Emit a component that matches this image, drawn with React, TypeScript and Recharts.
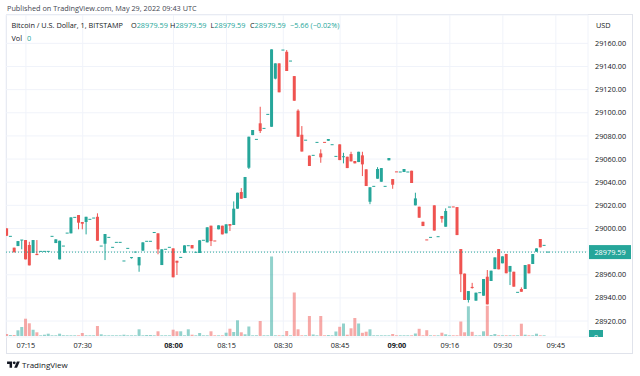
import { ComposedChart, Bar, XAxis, YAxis, CartesianGrid, ReferenceLine, Cell } from 'recharts'

const UP = '#26a69a'
const DOWN = '#ef5350'
const TEXT = '#131722'
const GRID = '#f0f3fa'
const FONT = '"Open Sans", "Noto Sans", sans-serif'

// BTC/USD 1-minute bars, BITSTAMP, 29 May 2022 (bar index, minutes without trades are skipped)
const OPEN = [
  29000.1, 28993.2, 28983.4, 28984.8, 28989.6, 28990.0, 28985.7, 28978.8, 28978.0, 28980.2,
  28980.2, 28980.2, 28993.2, 28987.4, 28973.3, 28984.8, 28996.0, 28995.8, 29009.6, 29011.6,
  29005.6, 29005.6, 29007.9, 29009.0, 29010.1, 28984.8, 28986.8, 28992.3, 28983.7, 28988.0,
  28988.0, 28971.9, 28982.8, 28974.0, 28979.6, 28968.1, 28980.8, 28988.9, 28988.9, 28996.5,
  28995.8, 28968.4, 28982.0, 28983.7, 28982.8, 28972.1, 28975.0, 28979.0, 28985.1, 28985.7,
  28979.4, 28978.8, 28989.8, 28988.0, 29002.4, 28989.2, 28999.3, 29002.4, 28995.8, 29003.8,
  29003.0, 29017.1, 29031.5, 29026.3, 29052.5, 29080.7, 29077.0, 29090.9, 29086.5, 29098.6,
  29087.9, 29129.5, 29142.7, 29154.2, 29152.7, 29144.7, 29131.7, 29101.8, 29081.0, 29076.3,
  29063.0, 29063.2, 29074.4, 29064.9, 29074.4, 29075.8, 29072.4, 29062.3, 29072.7, 29061.8,
  29062.0, 29064.3, 29058.3, 29057.4, 29063.2, 29051.1, 29023.1, 29036.4, 29043.0, 29040.4,
  29036.4, 29058.9, 29042.7, 29048.9, 29048.8, 29048.8, 29048.8, 29049.9, 29020.0, 29018.8,
  29005.8, 28990.1, 28992.3, 29020.0, 28992.9, 29010.8, 29001.5, 29018.5, 29018.6, 29018.5,
  28982.2, 28961.0, 28938.2, 28949.5, 28937.6, 28944.5, 28941.9, 28958.3, 28954.6, 28964.9,
  28982.2, 28969.9, 28978.0, 28962.6, 28962.6, 28944.8, 28947.7, 28947.7, 28969.0, 28969.3,
  28979.9, 28990.9, 28985.4, 28979.59,
]

const HIGH = [
  29000.1, 28993.2, 28983.4, 28989.1, 28990.0, 28990.0, 28988.5, 28990.0, 28990.0, 28980.2,
  28980.2, 28980.2, 28993.2, 28990.6, 28989.4, 28984.8, 28996.0, 29009.6, 29009.6, 29011.6,
  29005.6, 29010.1, 29007.9, 29009.0, 29013.1, 28984.8, 28995.2, 28992.3, 28983.7, 28988.0,
  28988.0, 28971.9, 28982.8, 28975.0, 28979.6, 28975.3, 28988.0, 28988.9, 28988.9, 28996.5,
  28995.8, 28982.0, 28982.0, 28983.7, 28982.8, 28972.1, 28975.0, 28985.4, 28985.1, 28985.7,
  28979.4, 28989.8, 28989.8, 29001.0, 29002.4, 28989.2, 29002.7, 29002.4, 29003.6, 29003.8,
  29023.4, 29030.9, 29034.9, 29044.5, 29079.3, 29085.1, 29077.0, 29105.2, 29086.5, 29098.6,
  29154.8, 29142.7, 29142.7, 29154.2, 29154.2, 29144.7, 29131.7, 29103.0, 29088.5, 29076.3,
  29063.0, 29063.2, 29074.4, 29068.4, 29074.4, 29077.3, 29072.4, 29062.3, 29072.7, 29065.4,
  29062.0, 29066.3, 29058.3, 29066.3, 29066.3, 29051.1, 29035.6, 29036.4, 29053.0, 29052.2,
  29036.4, 29060.9, 29042.7, 29048.9, 29048.8, 29051.4, 29048.8, 29049.9, 29030.9, 29018.8,
  29005.8, 28990.1, 28992.3, 29020.0, 28992.9, 29010.8, 29017.4, 29018.5, 29018.6, 29018.5,
  28982.2, 28961.0, 28945.9, 28953.0, 28944.5, 28944.5, 28956.3, 28964.1, 28963.5, 28975.0,
  28982.2, 28975.9, 28978.0, 28967.6, 28962.6, 28944.8, 28949.1, 28968.4, 28969.0, 28977.9,
  28982.8, 28990.9, 28985.4, 28979.59,
]

const LOW = [
  28993.7, 28993.2, 28979.4, 28984.8, 28982.0, 28973.3, 28968.1, 28978.8, 28977.0, 28980.2,
  28980.2, 28980.2, 28993.2, 28987.4, 28973.3, 28984.8, 28996.0, 28995.8, 29009.6, 28999.3,
  28999.3, 28994.9, 29007.9, 29009.0, 28989.4, 28984.8, 28972.7, 28992.3, 28983.7, 28988.0,
  28988.0, 28971.9, 28982.8, 28974.0, 28979.6, 28962.6, 28980.8, 28988.9, 28988.9, 28996.5,
  28977.7, 28968.4, 28982.0, 28983.7, 28957.8, 28959.8, 28975.0, 28979.0, 28985.1, 28982.8,
  28979.4, 28978.8, 28989.8, 28988.0, 28984.8, 28989.1, 28999.3, 28994.9, 28995.8, 28997.8,
  29003.0, 29017.1, 29025.7, 29026.3, 29051.4, 29080.7, 29077.0, 29082.5, 29086.5, 29098.6,
  29087.9, 29128.9, 29117.7, 29154.2, 29136.1, 29144.7, 29110.4, 29079.3, 29066.5, 29076.3,
  29054.0, 29063.2, 29074.4, 29056.8, 29074.2, 29075.8, 29072.4, 29062.3, 29059.1, 29056.3,
  29052.2, 29058.0, 29056.3, 29057.4, 29045.3, 29036.7, 29021.0, 29036.4, 29043.0, 29040.4,
  29036.4, 29058.9, 29034.3, 29048.8, 29048.8, 29048.8, 29048.8, 29039.3, 29020.0, 29009.3,
  29002.1, 28990.0, 28992.3, 28998.2, 28992.9, 29005.0, 29001.5, 29018.5, 29018.5, 28994.3,
  28945.0, 28938.2, 28936.0, 28948.0, 28937.6, 28944.5, 28941.9, 28934.4, 28954.6, 28964.9,
  28964.7, 28969.9, 28961.3, 28951.1, 28949.7, 28944.8, 28945.3, 28947.7, 28961.2, 28969.3,
  28979.9, 28983.7, 28985.4, 28979.59,
]

const CLOSE = [
  28993.7, 28993.2, 28979.4, 28989.1, 28990.0, 28973.3, 28968.1, 28990.0, 28977.0, 28980.2,
  28980.2, 28980.2, 28993.2, 28990.6, 28989.4, 28984.8, 28996.0, 29009.6, 29009.6, 29005.0,
  29004.1, 29010.1, 29007.9, 29009.0, 28989.4, 28984.8, 28995.2, 28992.3, 28983.7, 28988.0,
  28988.0, 28971.9, 28982.8, 28974.8, 28979.6, 28975.3, 28988.0, 28988.9, 28988.9, 28996.5,
  28982.0, 28982.0, 28982.0, 28983.7, 28957.8, 28970.4, 28975.0, 28985.4, 28985.1, 28982.8,
  28979.4, 28989.8, 28989.8, 29001.0, 28989.1, 28989.1, 29002.7, 28994.9, 29003.6, 29002.4,
  29017.1, 29030.9, 29025.7, 29044.5, 29079.3, 29085.1, 29077.0, 29084.2, 29086.5, 29098.6,
  29154.8, 29142.7, 29117.7, 29154.2, 29136.1, 29144.7, 29110.4, 29079.3, 29066.5, 29076.3,
  29054.0, 29063.2, 29074.4, 29061.5, 29074.2, 29077.3, 29072.4, 29062.3, 29059.1, 29062.0,
  29052.2, 29058.0, 29056.3, 29066.3, 29055.4, 29036.7, 29035.6, 29036.4, 29051.4, 29052.2,
  29036.4, 29060.9, 29037.8, 29048.8, 29048.8, 29051.4, 29048.8, 29039.3, 29026.0, 29009.3,
  29002.1, 28990.0, 28992.3, 28998.2, 28992.9, 29008.4, 29015.1, 29018.5, 29018.5, 28994.3,
  28960.5, 28938.2, 28945.9, 28948.5, 28944.5, 28944.5, 28956.3, 28934.4, 28963.5, 28975.0,
  28964.7, 28975.9, 28961.3, 28967.6, 28949.7, 28944.8, 28945.3, 28968.4, 28961.2, 28977.9,
  28982.8, 28983.7, 28985.4, 28979.59,
]

const VOLUME = [
  0.2, 0.1, 0.1, 0.57, 0.9, 1.73, 1.27, 0.63, 0.37, 0.07,
  0.13, 0.23, 0.07, 0.07, 0.23, 0.07, 0.07, 0.07, 0.07, 0.07,
  0.3, 0.07, 0.07, 0.07, 1.0, 0.17, 0.07, 0.07, 0.07, 0.07,
  0.07, 0.13, 0.07, 0.07, 0.07, 0.67, 0.07, 0.1, 0.1, 0.07,
  0.47, 0.07, 0.07, 0.07, 0.63, 0.47, 0.47, 0.07, 0.67, 0.13,
  0.07, 0.3, 0.07, 0.07, 0.47, 0.07, 0.07, 0.07, 0.33, 0.73,
  0.4, 1.57, 0.37, 0.17, 0.95, 0.07, 0.07, 1.5, 0.07, 0.07,
  7.95, 0.07, 0.07, 0.07, 0.5, 0.07, 4.35, 0.67, 0.07, 0.07,
  2.0, 0.15, 0.07, 2.0, 0.07, 0.1, 0.07, 0.45, 0.92, 1.25,
  0.13, 0.77, 1.8, 1.25, 0.32, 0.43, 0.67, 0.07, 0.07, 0.07,
  0.07, 0.07, 0.2, 0.07, 0.07, 0.07, 0.07, 0.07, 0.25, 0.72,
  0.07, 0.58, 0.07, 0.07, 0.07, 0.33, 0.17, 0.07, 0.07, 0.07,
  1.45, 0.37, 2.97, 0.42, 0.07, 0.07, 0.47, 3.03, 0.1, 0.2,
  0.07, 0.07, 0.07, 0.07, 0.07, 0.07, 1.23, 0.13, 0.07, 0.07,
  0.23, 0.07, 0.07, 0,
]

const TICK_INDEX = [5, 20, 44, 58, 73, 88, 103, 117, 131, 145]
const TICK_LABELS = ['07:15', '07:30', '08:00', '08:15', '08:30', '08:45', '09:00', '09:16', '09:30', '09:45']
const PRICE_TICKS = [28920, 28940, 28960, 28980, 29000, 29020, 29040, 29060, 29080, 29100, 29120, 29140, 29160]
const LAST_PRICE = 28979.59

const PRICE_DOMAIN = [28906.2, 29184.5]
const VOL_DOMAIN = [-0.1, 32.1]
const X_DOMAIN = [-0.264, 153.5]

const W = 640
const H = 376

const data = OPEN.map((o, i) => ({ i, o, h: HIGH[i], l: LOW[i], c: CLOSE[i], v: VOLUME[i] }))

function Candle(props: any) {
  const { x, y, width, height, payload } = props
  if (!payload || x == null || y == null) return null
  const { o, h, l, c } = payload
  const color = c >= o ? UP : DOWN
  const span = h - l
  const k = span > 0 ? height / span : 0
  const top = y + (h - Math.max(o, c)) * k
  const bh = Math.abs(c - o) * k
  const cx = x + width / 2
  return (
    <g>
      {span > 0 && <rect x={cx - 0.5} y={y} width={1} height={height} fill={color} />}
      {bh >= 1 ? (
        <rect x={x} y={top} width={width} height={bh} fill={color} />
      ) : (
        <rect x={x} y={top - 0.5} width={width} height={1} fill={color} />
      )}
    </g>
  )
}

function TimeTick({ x, y, payload }: any) {
  const label = TICK_LABELS[TICK_INDEX.indexOf(payload.value)]
  return (
    <text x={x} y={y + 11} textAnchor="middle" fontSize={7.3} fill={TEXT}
      fontWeight={label.endsWith(':00') ? 700 : 400}>
      {label}
    </text>
  )
}

function PriceTag({ viewBox }: any) {
  if (!viewBox) return null
  const x = viewBox.x + viewBox.width + 1
  return (
    <g>
      <rect x={x} y={viewBox.y - 7} width={42} height={14} fill={UP} />
      <text x={x + 21} y={viewBox.y + 2.6} textAnchor="middle" fontSize={7.3} fill="#fff">
        {LAST_PRICE.toFixed(2)}
      </text>
    </g>
  )
}

function VolTag({ viewBox }: any) {
  if (!viewBox) return null
  const x = viewBox.x + viewBox.width + 1
  return (
    <g>
      <clipPath id="volclip">
        <rect x={x} y={viewBox.y - 6} width={14} height={7} />
      </clipPath>
      <g clipPath="url(#volclip)">
        <rect x={x} y={viewBox.y - 6} width={14} height={7} fill={UP} />
        <text x={x + 7} y={viewBox.y + 3.5} textAnchor="middle" fontSize={7.3} fill="#fff">0</text>
      </g>
    </g>
  )
}

const abs = (left: number, top: number): React.CSSProperties => ({ position: 'absolute', left, top, whiteSpace: 'nowrap', lineHeight: '10px' })

export default function App() {
  return (
    <div style={{ position: 'absolute', left: 0, top: 0, width: W, height: H, background: '#fff', overflow: 'hidden', fontFamily: FONT, fontSize: 7.3, color: TEXT }}>
      <div style={{ ...abs(7, 3), color: '#434651' }}>Published on TradingView.com, May 29, 2022 09:43 UTC</div>
      <div style={{ position: 'absolute', left: 6, top: 14, width: 627, height: 340, border: '1px solid #e0e3eb', boxSizing: 'border-box' }} />

      <div style={{ position: 'absolute', left: 0, top: 0 }}>
        <ComposedChart width={W} height={H} data={data} margin={{ top: 15, right: 8, bottom: 23, left: 6 }}>
          <CartesianGrid stroke={GRID} yAxisId="price" />
          <XAxis dataKey="i" type="number" domain={X_DOMAIN} allowDataOverflow ticks={TICK_INDEX} interval={0}
            height={16} axisLine={false} tickLine={false} tickSize={0} tickMargin={0} tick={<TimeTick />} />
          <YAxis yAxisId="price" orientation="right" width={44} domain={PRICE_DOMAIN} allowDataOverflow
            ticks={PRICE_TICKS} interval={0} axisLine={false} tickLine={false} tickSize={0} tickMargin={7}
            tick={{ fill: TEXT, fontSize: 7.3 }} tickFormatter={(v: number) => v.toFixed(2)} />
          <YAxis yAxisId="vol" hide domain={VOL_DOMAIN} allowDataOverflow />
          <Bar yAxisId="vol" dataKey="v" barSize={3} isAnimationActive={false}>
            {data.map((d) => (
              <Cell key={d.i} fill={d.c >= d.o ? UP : DOWN} fillOpacity={0.5} />
            ))}
          </Bar>
          <ReferenceLine yAxisId="vol" y={0} stroke="none" label={<VolTag />} />
        </ComposedChart>
      </div>

      <div style={{ position: 'absolute', left: 0, top: 0 }}>
        <ComposedChart width={W} height={H} data={data} margin={{ top: 15, right: 52, bottom: 39, left: 6 }}>
          <XAxis dataKey="i" type="number" domain={X_DOMAIN} allowDataOverflow hide />
          <YAxis domain={PRICE_DOMAIN} allowDataOverflow hide />
          <ReferenceLine y={LAST_PRICE} stroke={UP} strokeDasharray="1 2" label={<PriceTag />} />
          <Bar dataKey={(d: any) => [d.l, d.h]} barSize={3} shape={<Candle />} isAnimationActive={false} />
        </ComposedChart>
      </div>

      <div style={abs(11.5, 20)}>Bitcoin / U.S. Dollar, 1, BITSTAMP</div>
      <div style={abs(131, 20)}>O<span style={{ color: UP }}>28979.59</span></div>
      <div style={abs(170, 20)}>H<span style={{ color: UP }}>28979.59</span></div>
      <div style={abs(210.5, 20)}>L<span style={{ color: UP }}>28979.59</span></div>
      <div style={abs(250, 20)}>C<span style={{ color: UP }}>28979.59</span></div>
      <div style={{ ...abs(290, 20), color: UP }}>−5.66 (−0.02%)</div>
      <div style={abs(11.5, 33)}>Vol <span style={{ color: UP, marginLeft: 3 }}>0</span></div>
      <div style={abs(596, 20)}>USD</div>

      <div style={{ position: 'absolute', left: 7, top: 359, display: 'flex', alignItems: 'center', fontSize: 8, color: TEXT }}>
        <svg width={13} height={10} viewBox="0 0 36 28" style={{ marginRight: 2 }}>
          <path d="M14 22H7V11H0V4h14v18z" fill={TEXT} />
          <circle cx={20} cy={8} r={4} fill={TEXT} />
          <path d="M28 22h-8l7.5-18h8L28 22z" fill={TEXT} />
        </svg>
        TradingView
      </div>
    </div>
  )
}
